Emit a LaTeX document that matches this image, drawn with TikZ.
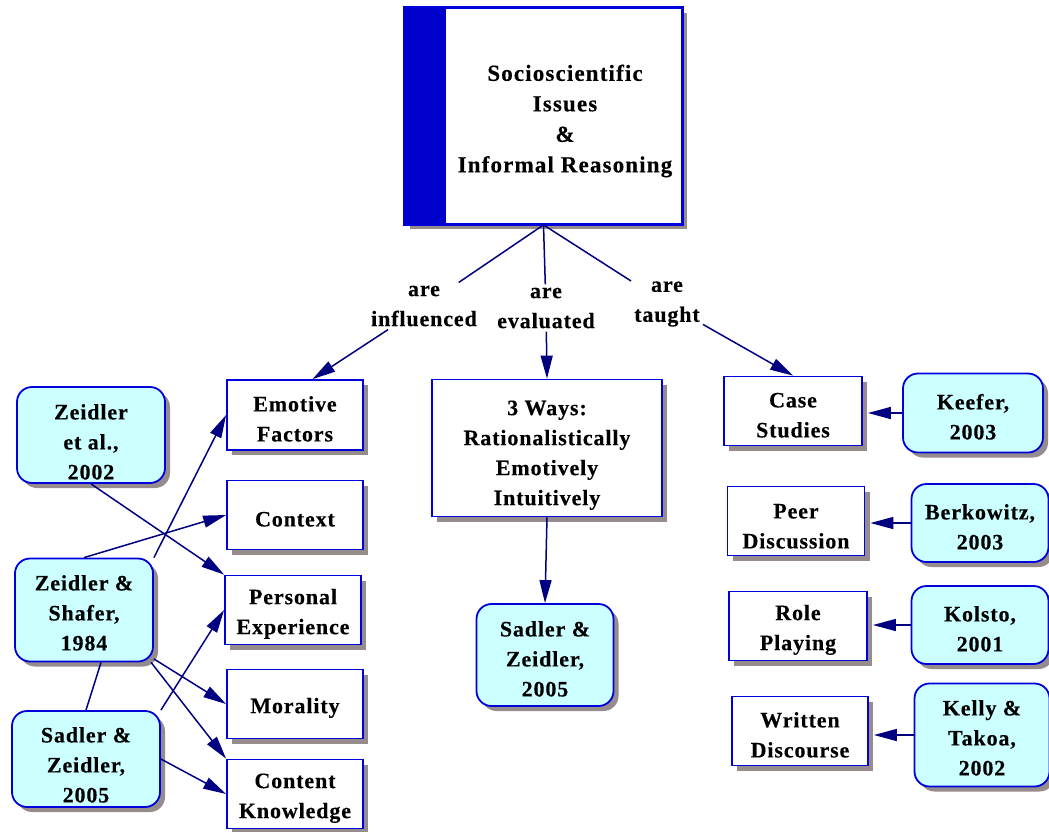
\documentclass[tikz,border=0pt]{standalone}
\usepackage{fontspec}
\setmainfont{Liberation Serif}[LetterSpace=4, BoldFeatures={FakeBold=0.3}]
\newfontfamily\titlefont{Liberation Serif}[LetterSpace=5, BoldFeatures={FakeBold=0.3}]
\usetikzlibrary{arrows.meta,shadows,calc}
\definecolor{bord}{HTML}{0000DD}
\definecolor{navyl}{HTML}{000080}
\definecolor{cyanf}{HTML}{CCFFFF}
\definecolor{shad}{HTML}{968C8C}
\definecolor{band}{HTML}{0000CC}
\newcommand\dn[1]{\rule{0pt}{#1}}
\tikzset{
  base/.style={draw=bord, line width=1.8pt, align=center, inner sep=0pt,
    font=\fontsize{22}{30}\selectfont\bfseries,
    drop shadow={shadow xshift=5pt, shadow yshift=-5pt, fill=shad, opacity=1}},
  concept/.style={base, fill=white},
  refbox/.style={base, fill=cyanf, rounded corners=15pt},
  lab/.style={align=center, inner sep=3pt, font=\fontsize{22}{30}\selectfont\bfseries},
  conn/.style={draw=navyl, line width=1.5pt},
  arr/.style={conn, -{Triangle[length=23pt,width=12pt]}},
}
\begin{document}
\begin{tikzpicture}[x=1pt,y=-1pt]
\useasboundingbox (0,0) rectangle (1049,831);
% top box
\node[base, fill=white, minimum width=277pt, minimum height=216pt] (top) at (543.5,116) {};
\fill[band] (top.north west) rectangle ($(top.south west)+(42,0)$);
\draw[bord, line width=1.8pt] (top.north west) rectangle (top.south east);
\node[lab, font=\fontsize{23}{30.5}\selectfont\titlefont\bfseries] (title) at (565,121)
  {Socioscientific\\Issues\\\&\\Informal Reasoning};
% labels
\node[lab] (lab1) at (424,306) {are\\influenced};
\node[lab] (lab2) at (546,308) {are\\evaluated};
\node[lab] (lab3) at (667,304) {are\\taught};
% left concept boxes
\node[concept, minimum width=136pt, minimum height=70pt] (emo) at (295,415) {\dn{23pt}Emotive\\Factors};
\node[concept, minimum width=136pt, minimum height=69pt] (ctx) at (295,515) {\dn{23pt}Context};
\node[concept, minimum width=136pt, minimum height=69pt] (pe) at (293,610) {\dn{23pt}Personal\\Experience};
\node[concept, minimum width=136pt, minimum height=69pt] (mor) at (295,704) {\dn{23pt}Morality};
\node[concept, minimum width=136pt, minimum height=69pt] (ck) at (295,794) {\dn{23pt}Content\\Knowledge};
% left reference boxes
\node[refbox, minimum width=148pt, minimum height=96pt] (zea) at (91,435) {\dn{29pt}Zeidler\\et al.,\\2002};
\node[refbox, minimum width=138pt, minimum height=103pt] (zs) at (84,610) {\dn{21pt}Zeidler \&\\Shafer,\\1984};
\node[refbox, minimum width=148pt, minimum height=96pt] (sz1) at (86,759) {\dn{27pt}Sadler \&\\Zeidler,\\2005};
% middle
\node[concept, minimum width=230pt, minimum height=137pt] (tw) at (547,448)
  {\dn{29pt}3 Ways:\\Rationalistically\\Emotively\\Intuitively};
\node[refbox, minimum width=137pt, minimum height=102pt] (szm) at (545,655) {\dn{23pt}Sadler \&\\Zeidler,\\2005};
% right
\node[concept, minimum width=138pt, minimum height=69pt] (cs) at (793,411) {\dn{23pt}Case\\Studies};
\node[refbox, minimum width=140pt, minimum height=79pt] (kee) at (973,413) {\dn{23pt}Keefer,\\2003};
\node[concept, minimum width=137pt, minimum height=69pt] (pd) at (796,521) {\dn{25pt}Peer\\Discussion};
\node[refbox, minimum width=137pt, minimum height=78pt] (ber) at (980,523) {\dn{23pt}Berkowitz,\\2003};
\node[concept, minimum width=138pt, minimum height=69pt] (rp) at (798,626) {\dn{23pt}Role\\Playing};
\node[refbox, minimum width=137pt, minimum height=78pt] (kol) at (980,625) {\dn{23pt}Kolsto,\\2001};
\node[concept, minimum width=136pt, minimum height=69pt] (wd) at (800,731) {\dn{23pt}Written\\Discourse};
\node[refbox, minimum width=135pt, minimum height=103pt] (kel) at (982,735) {\dn{21pt}Kelly \&\\Takoa,\\2002};
% top connectors
\draw[conn] (top.south) -- (lab1);
\draw[arr] (lab1) -- (emo.64);
\draw[conn] (top.south) -- (lab2);
\draw[arr] (lab2) -- (tw.north);
\draw[conn] (top.south) -- (lab3);
\draw[arr] (lab3) -- (cs.north);
\draw[arr] (tw.south) -- (szm.north);
% left connectors
\draw[arr] (zea.south) -- (pe.north west);
\draw[arr] (zs.north) -- (ctx.west);
\draw[arr] (zs.north east) -- (emo.west);
\draw[arr] (zs.-35) -- (mor.west);
\draw[arr] (zs.-38) -- (ck.north west);
\draw[conn] (zs.-72) -- (sz1.north);
\draw[arr] (sz1.north east) -- (pe.west);
\draw[arr] (sz1.east) -- (ck.west);
% right connectors
\draw[arr, shorten >=5pt] (kee.west) -- (kee.west -| cs.east);
\draw[arr, shorten >=5pt] (ber.west) -- (ber.west -| pd.east);
\draw[arr, shorten >=5pt] (kol.west) -- (kol.west -| rp.east);
\draw[arr, shorten >=5pt] (kel.west) -- (kel.west -| wd.east);
\end{tikzpicture}
\end{document}
